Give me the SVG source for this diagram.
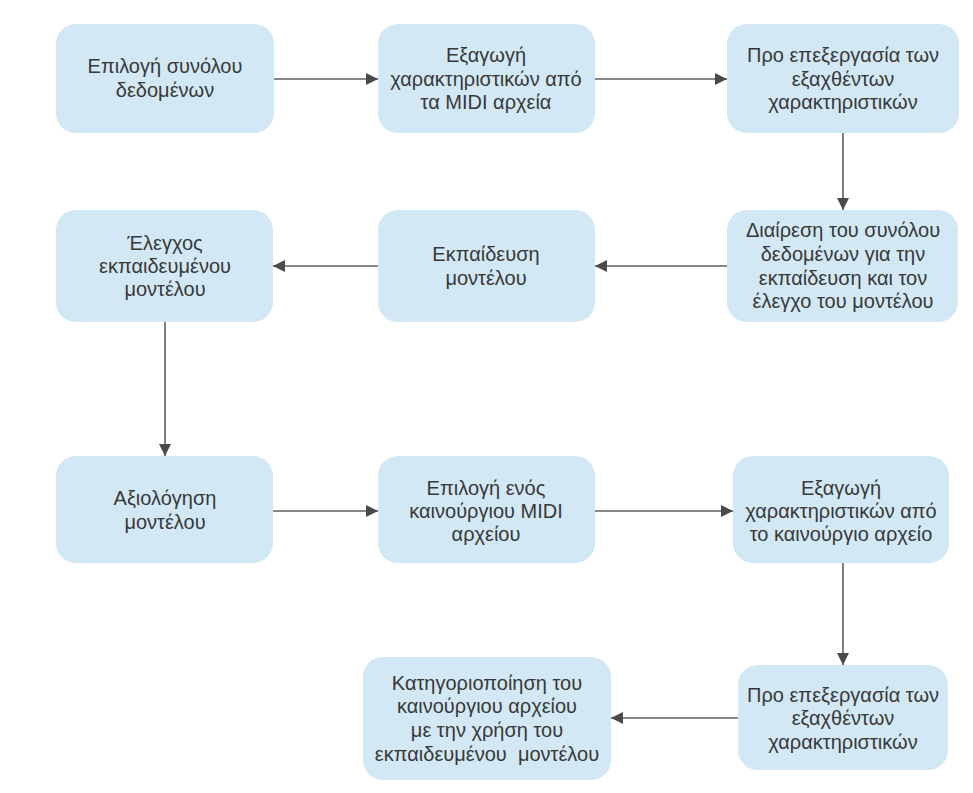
<svg xmlns="http://www.w3.org/2000/svg" width="973" height="793" viewBox="0 0 973 793">
  <style>
    .box { fill: #d3e8f5; }
    .lbl { font-family: "Liberation Sans", Arial, sans-serif; font-size: 20px; fill: #383838; text-anchor: middle; }
    .edge { stroke: #606060; stroke-width: 1.6; fill: none; marker-end: url(#arrow); }
  </style>
  <defs>
    <marker id="arrow" viewBox="0 0 12 12" refX="12" refY="6" markerWidth="12" markerHeight="12" markerUnits="userSpaceOnUse" orient="auto">
      <path d="M0,0 L12,6 L0,12 Z" fill="#4a4a4a"/>
    </marker>
  </defs>
  <rect width="973" height="793" fill="#ffffff"/>

  <!-- connectors -->
  <g id="connectors">
    <line class="edge" x1="274" y1="79" x2="378" y2="79"/>
    <line class="edge" x1="595" y1="79" x2="727" y2="79"/>
    <line class="edge" x1="843" y1="133" x2="843" y2="210"/>
    <line class="edge" x1="727" y1="266" x2="595" y2="266"/>
    <line class="edge" x1="378" y1="266" x2="273" y2="266"/>
    <line class="edge" x1="165" y1="322" x2="165" y2="456"/>
    <line class="edge" x1="273" y1="511" x2="378" y2="511"/>
    <line class="edge" x1="595" y1="511" x2="733" y2="511"/>
    <line class="edge" x1="843" y1="563" x2="843" y2="665"/>
    <line class="edge" x1="738" y1="718" x2="611" y2="718"/>
  </g>

  <g id="n1">
    <rect class="box" x="56" y="24" width="218" height="109" rx="20"/>
    <text class="lbl" x="165" y="73">Επιλογή συνόλου</text>
    <text class="lbl" x="165" y="97">δεδομένων</text>
  </g>
  <g id="n2">
    <rect class="box" x="378" y="24" width="217" height="109" rx="20"/>
    <text class="lbl" x="486" y="62">Εξαγωγή</text>
    <text class="lbl" x="486" y="86">χαρακτηριστικών από</text>
    <text class="lbl" x="486" y="109">τα MIDI αρχεία</text>
  </g>
  <g id="n3">
    <rect class="box" x="727" y="24" width="232" height="109" rx="20"/>
    <text class="lbl" x="843" y="62">Προ επεξεργασία των</text>
    <text class="lbl" x="843" y="86">εξαχθέντων</text>
    <text class="lbl" x="843" y="109">χαρακτηριστικών</text>
  </g>
  <g id="n4">
    <rect class="box" x="727" y="210" width="231" height="112" rx="20"/>
    <text class="lbl" x="843" y="237">Διαίρεση του συνόλου</text>
    <text class="lbl" x="843" y="261">δεδομένων για την</text>
    <text class="lbl" x="843" y="285">εκπαίδευση και τον</text>
    <text class="lbl" x="843" y="308">έλεγχο του μοντέλου</text>
  </g>
  <g id="n5">
    <rect class="box" x="378" y="210" width="217" height="112" rx="20"/>
    <text class="lbl" x="486" y="261">Εκπαίδευση</text>
    <text class="lbl" x="486" y="285">μοντέλου</text>
  </g>
  <g id="n6">
    <rect class="box" x="56" y="210" width="217" height="112" rx="20"/>
    <text class="lbl" x="165" y="250">Έλεγχος</text>
    <text class="lbl" x="165" y="273">εκπαιδευμένου</text>
    <text class="lbl" x="165" y="296">μοντέλου</text>
  </g>
  <g id="n7">
    <rect class="box" x="56" y="456" width="217" height="107" rx="20"/>
    <text class="lbl" x="165" y="505">Αξιολόγηση</text>
    <text class="lbl" x="165" y="529">μοντέλου</text>
  </g>
  <g id="n8">
    <rect class="box" x="378" y="456" width="217" height="107" rx="20"/>
    <text class="lbl" x="486" y="495">Επιλογή ενός</text>
    <text class="lbl" x="486" y="518">καινούργιου MIDI</text>
    <text class="lbl" x="486" y="541">αρχείου</text>
  </g>
  <g id="n9">
    <rect class="box" x="733" y="456" width="216" height="107" rx="20"/>
    <text class="lbl" x="841" y="495">Εξαγωγή</text>
    <text class="lbl" x="841" y="518">χαρακτηριστικών από</text>
    <text class="lbl" x="841" y="541">το καινούργιο αρχείο</text>
  </g>
  <g id="n10">
    <rect class="box" x="738" y="665" width="210" height="105" rx="20"/>
    <text class="lbl" x="843" y="702">Προ επεξεργασία των</text>
    <text class="lbl" x="843" y="725">εξαχθέντων</text>
    <text class="lbl" x="843" y="749">χαρακτηριστικών</text>
  </g>
  <g id="n11">
    <rect class="box" x="363" y="657" width="248" height="123" rx="20"/>
    <text class="lbl" x="487" y="690">Κατηγοριοποίηση του</text>
    <text class="lbl" x="487" y="713">καινούργιου αρχείου</text>
    <text class="lbl" x="487" y="737">με την χρήση του</text>
    <text class="lbl" x="487" y="761" xml:space="preserve">εκπαιδευμένου  μοντέλου</text>
  </g>
</svg>
